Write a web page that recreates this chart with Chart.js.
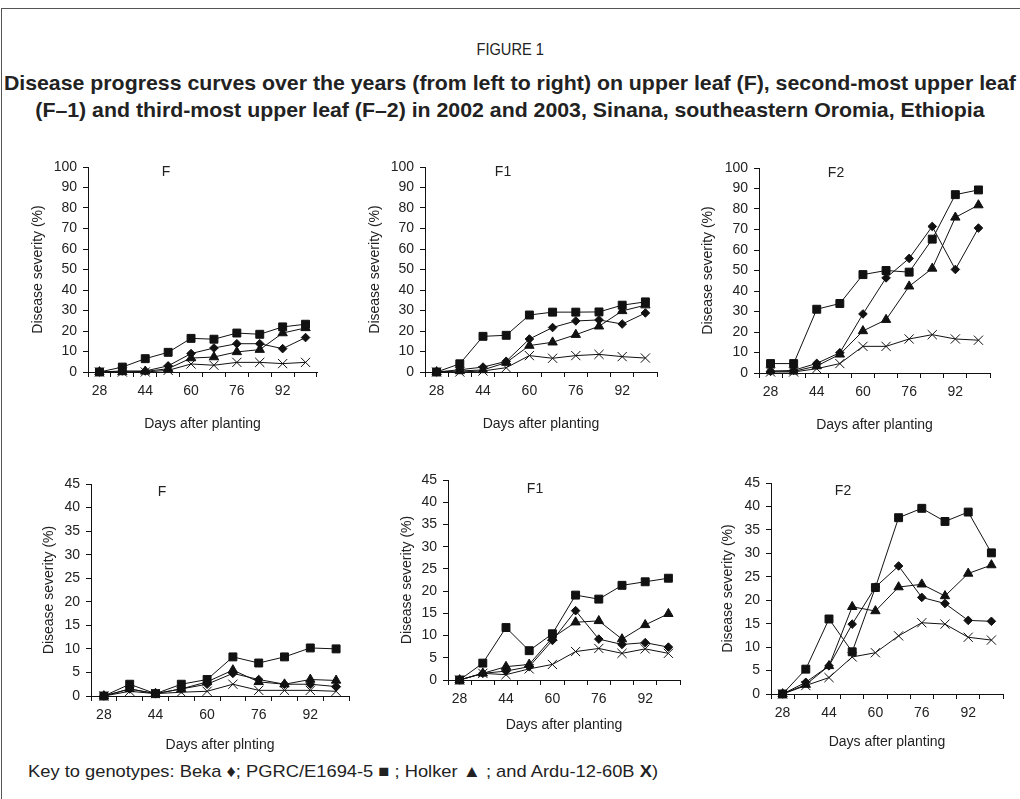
<!DOCTYPE html>
<html>
<head>
<meta charset="utf-8">
<title>Disease progress curves, Sinana</title>
<script src="https://cdn.jsdelivr.net/npm/chart.js@4.4.1/dist/chart.umd.min.js"></script>
<style>
  html, body { margin: 0; padding: 0; background: #fff; }
  body { width: 1020px; height: 799px; position: relative; overflow: hidden; color: #222;
         font-family: "Liberation Sans", Arial, sans-serif; }
  .frame { position: absolute; left: 1px; top: 8px; width: 1100px; height: 900px;
           border-left: 1.5px solid #555; border-top: 1.5px solid #555; }
  .row { position: absolute; left: 0; width: 1020px; text-align: center; white-space: nowrap; }
  .row span { display: inline-block; transform-origin: 50% 50%; }
  #fig { top: 40px; font-size: 17px; line-height: 20px; }
  .t { font-weight: bold; font-size: 21px; line-height: 26px; }
  canvas { position: absolute; }
  #key { position: absolute; left: 28px; top: 762px; font-size: 17px; line-height: 20px;
         white-space: nowrap; transform-origin: 0 50%; }
</style>
</head>
<body>
<div class="frame"></div>
<div id="fig" class="row"><span id="figText">FIGURE 1</span></div>
<div class="row t" style="top:70px"><span id="line1">Disease progress curves over the years (from left to right) on upper leaf (F), second-most upper leaf</span></div>
<div class="row t" style="top:97px"><span id="line2">(F–1) and third-most upper leaf (F–2) in 2002 and 2003, Sinana, southeastern Oromia, Ethiopia</span></div>

<canvas id="c1"></canvas>
<canvas id="c2"></canvas>
<canvas id="c3"></canvas>
<canvas id="c4"></canvas>
<canvas id="c5"></canvas>
<canvas id="c6"></canvas>

<div id="key">Key to genotypes: Beka ♦; PGRC/E1694-5 ■ ; Holker ▲ ; and Ardu-12-60B <b>X</b>)</div>

<script>
// Sampling dates (days after planting) and the ones labelled on the axis
const days = [28, 36, 44, 52, 60, 68, 76, 84, 92, 100];
const labelledDays = [28, 44, 60, 76, 92];
const genotypes = ['Beka', 'PGRC/E1694-5', 'Holker', 'Ardu-12-60B'];

// 2002 – flag leaf (F)
const beka2002F   = [0, 0.5, 0.5, 3, 9, 11.7, 13.8, 13.8, 11.4, 16.8];
const pgrc2002F   = [0, 2.4, 6.5, 9.6, 16.4, 16, 19, 18.4, 22, 23.3];
const holker2002F = [0, 0, 0.3, 1.6, 6.8, 7.3, 9.8, 10.9, 19, 21.5];
const ardu2002F   = [0, 0, 0, 0.8, 3.9, 3.3, 4.7, 4.7, 4.1, 4.7];

// 2002 – second leaf (F1)
const beka2002F1   = [0, 1.1, 2.4, 5.2, 16.1, 21.7, 24.9, 25.4, 23.4, 28.8];
const pgrc2002F1   = [0, 4, 17.4, 17.9, 27.8, 29.2, 29.2, 29.3, 32.6, 34.2];
const holker2002F1 = [0, 0.5, 1, 4.6, 12.9, 14.5, 18.2, 22.3, 29.8, 32.6];
const ardu2002F1   = [0, 0, 0.5, 2.1, 8, 6.7, 8, 8.6, 7.5, 6.8];

// 2002 – third leaf (F2)
const beka2002F2   = [0.8, 1.3, 4.7, 9.9, 28.8, 46.4, 55.9, 71.5, 50.5, 70.7];
const pgrc2002F2   = [4.6, 4.6, 31.1, 33.9, 48, 50, 49.2, 65.3, 87, 89.3];
const holker2002F2 = [1, 0.8, 3.4, 9.1, 20.5, 26, 42.3, 51, 75.9, 81.9];
const ardu2002F2   = [0.5, 0.5, 2.1, 4.6, 13, 13, 16.6, 18.7, 16.6, 16];

// 2003 – flag leaf (F)
const beka2003F   = [0, 1.5, 0.5, 1.5, 2.5, 4.8, 3.5, 2.5, 2.5, 2];
const pgrc2003F   = [0, 2.5, 0.5, 2.5, 3.5, 8.3, 7, 8.3, 10.2, 10];
const holker2003F = [0, 1.5, 0.5, 1.5, 3, 5.5, 3, 2.5, 3.5, 3.3];
const ardu2003F   = [0, 1, 0.5, 0.8, 1, 2.5, 1.2, 1.2, 1.2, 1];

// 2003 – second leaf (F1)
const beka2003F1   = [0, 1.5, 2, 3, 8.9, 15.6, 9.2, 8, 8.4, 7.4];
const pgrc2003F1   = [0, 3.8, 11.8, 6.6, 10.4, 19.1, 18.2, 21.3, 22.1, 22.9];
const holker2003F1 = [0, 1.5, 3, 3.5, 9.5, 13, 13.3, 9.2, 12.4, 14.9];
const ardu2003F1   = [0, 1.5, 1.2, 2.5, 3.5, 6.4, 7.1, 6, 7, 6];

// 2003 – third leaf (F2)
const beka2003F2   = [0, 2.5, 6, 14.9, 22.8, 27.3, 20.6, 19.3, 15.7, 15.5];
const pgrc2003F2   = [0, 5.3, 16, 9, 22.7, 37.6, 39.6, 36.8, 38.8, 30.1];
const holker2003F2 = [0, 2, 6, 18.6, 17.7, 22.8, 23.4, 20.9, 25.7, 27.5];
const ardu2003F2   = [0, 1.8, 3.5, 7.9, 8.8, 12.4, 15.2, 14.9, 12.1, 11.5];

// Condensed look for the caption: squeeze each line horizontally to a set width
function squeeze(el, targetWidth) {
  const w = el.getBoundingClientRect().width;
  el.style.transform = 'scaleX(' + (targetWidth / w) + ')';
}
squeeze(document.getElementById('line1'), 1012);
{
  const l1 = document.getElementById('line1');
  const l2 = document.getElementById('line2');
  l2.style.transform = l1.style.transform;
}
document.getElementById('figText').style.transform = 'scaleX(0.86)';
squeeze(document.getElementById('key'), 630);

Chart.defaults.font.family = '"Liberation Sans", Arial, sans-serif';
Chart.defaults.color = '#222';

// Marker per genotype: diamond, square, triangle, cross
const markers = [
  { pointStyle: 'rectRot',  radius: 4.3 },
  { pointStyle: 'rect',     radius: 5.6 },
  { pointStyle: 'triangle', radius: 5.4 },
  { pointStyle: 'crossRot', radius: 6.5 }
];

// Leaf label drawn inside each panel
const panelTag = {
  id: 'panelTag',
  afterDraw(chart, args, opts) {
    const { ctx, chartArea } = chart;
    ctx.save();
    ctx.font = '14px "Liberation Sans", Arial, sans-serif';
    ctx.fillStyle = '#222';
    ctx.textAlign = 'center';
    ctx.textBaseline = 'middle';
    ctx.fillText(opts.text, chartArea.left + opts.dx, chartArea.top + opts.dy);
    ctx.restore();
  }
};

const YW = 70;   // width reserved for the y axis (ticks, labels, title)
const PT = 20;   // space above the plot
const PR = 12;   // space right of the plot

const panels = [
  { id: 'c1', tag: 'F',  left: 88,  top: 167, w: 229, h: 205, max: 100, step: 10,
    series: [beka2002F, pgrc2002F, holker2002F, ardu2002F],
    xTitle: 'Days after planting', xTitleGap: 53, yTitleGap: 50, tagDx: 78, tagDy: 5 },
  { id: 'c2', tag: 'F1', left: 425, top: 167, w: 232, h: 205, max: 100, step: 10,
    series: [beka2002F1, pgrc2002F1, holker2002F1, ardu2002F1],
    xTitle: 'Days after planting', xTitleGap: 53, yTitleGap: 50, tagDx: 78, tagDy: 5 },
  { id: 'c3', tag: 'F2', left: 759, top: 168, w: 231, h: 205, max: 100, step: 10,
    series: [beka2002F2, pgrc2002F2, holker2002F2, ardu2002F2],
    xTitle: 'Days after planting', xTitleGap: 53, yTitleGap: 51, tagDx: 77, tagDy: 5 },
  { id: 'c4', tag: 'F',  left: 91,  top: 484, w: 258, h: 212, max: 45, step: 5,
    series: [beka2003F, pgrc2003F, holker2003F, ardu2003F],
    xTitle: 'Days after plnting', xTitleGap: 50, yTitleGap: 42, tagDx: 71, tagDy: 8 },
  { id: 'c5', tag: 'F1', left: 448, top: 480, w: 232, h: 200, max: 45, step: 5,
    series: [beka2003F1, pgrc2003F1, holker2003F1, ardu2003F1],
    xTitle: 'Days after planting', xTitleGap: 46, yTitleGap: 41, tagDx: 87, tagDy: 9 },
  { id: 'c6', tag: 'F2', left: 771, top: 483, w: 232, h: 211, max: 45, step: 5,
    series: [beka2003F2, pgrc2003F2, holker2003F2, ardu2003F2],
    xTitle: 'Days after planting', xTitleGap: 49, yTitleGap: 43, tagDx: 72, tagDy: 8 }
];

const TITLE_FONT = { size: 14, lineHeight: 1.2 };
const HALF_TITLE = 14 * 1.2 / 2;

panels.forEach(p => {
  const canvas = document.getElementById(p.id);
  const XH = Math.round(p.xTitleGap + HALF_TITLE);
  const cw = YW + p.w + PR;
  const ch = PT + p.h + XH;
  canvas.width = cw;
  canvas.height = ch;
  canvas.style.left = (p.left - YW) + 'px';
  canvas.style.top = (p.top - PT) + 'px';
  canvas.style.width = cw + 'px';
  canvas.style.height = ch + 'px';

  new Chart(canvas, {
    type: 'line',
    data: {
      labels: days,
      datasets: p.series.map((values, i) => ({
        label: genotypes[i],
        data: values,
        borderColor: '#111',
        borderWidth: 1,
        backgroundColor: '#111',
        pointBackgroundColor: '#111',
        pointBorderColor: '#111',
        pointBorderWidth: 1,
        pointStyle: markers[i].pointStyle,
        pointRadius: markers[i].radius,
        tension: 0,
        fill: false,
        clip: false
      }))
    },
    options: {
      responsive: false,
      animation: false,
      devicePixelRatio: 1,
      layout: { padding: { left: 0, top: PT, right: PR, bottom: 0 } },
      plugins: {
        legend: { display: false },
        tooltip: { enabled: false },
        panelTag: { text: p.tag, dx: p.tagDx, dy: p.tagDy }
      },
      scales: {
        x: {
          type: 'category',
          offset: true,
          afterFit(scale) { scale.height = XH; },
          grid: { display: true, offset: true, drawOnChartArea: false, drawTicks: true,
                  tickLength: 5, color: '#111', tickColor: '#111' },
          border: { display: true, color: '#111', width: 1 },
          ticks: {
            autoSkip: false, maxRotation: 0, minRotation: 0, padding: 6,
            font: { size: 14 }, color: '#222',
            callback(value, index) {
              const d = days[index];
              return labelledDays.includes(d) ? String(d) : '';
            }
          },
          title: { display: true, text: p.xTitle, font: TITLE_FONT, color: '#222',
                   padding: { top: 0, bottom: 0 } }
        },
        y: {
          min: 0, max: p.max,
          afterFit(scale) { scale.width = YW; },
          grid: { display: true, drawOnChartArea: false, drawTicks: true,
                  tickLength: 5, color: '#111', tickColor: '#111' },
          border: { display: true, color: '#111', width: 1 },
          ticks: { stepSize: p.step, padding: 6, font: { size: 14 }, color: '#222' },
          title: { display: true, text: 'Disease severity (%)', font: TITLE_FONT, color: '#222',
                   padding: { top: YW - p.yTitleGap - HALF_TITLE, bottom: 0 } }
        }
      }
    },
    plugins: [panelTag]
  });
});
</script>
</body>
</html>
